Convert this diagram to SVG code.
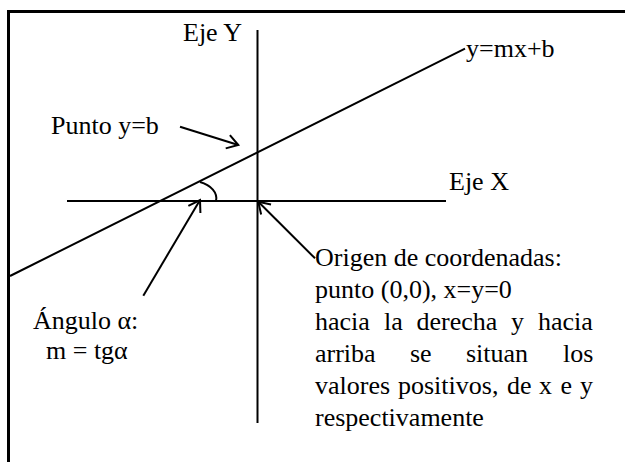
<svg xmlns="http://www.w3.org/2000/svg" width="625" height="462" viewBox="0 0 625 462">
<style>
text{font-family:"Liberation Serif","Times New Roman",serif;font-size:26px;fill:#000}
.ln{stroke:#000;stroke-width:2;fill:none}
.ar{stroke:#000;stroke-width:2;fill:none;marker-end:url(#arr)}
</style>
<defs>
<marker id="arr" markerUnits="userSpaceOnUse" markerWidth="30" markerHeight="30" refX="0" refY="0" viewBox="-15 -15 30 30" orient="auto" overflow="visible">
<path d="M-11,-7 L0,0 L-11,7" stroke="#000" stroke-width="2" fill="none"/>
</marker>
</defs>
<rect width="625" height="462" fill="#fff"/>
<g id="frame"><path d="M8.5,462 V11.5 H625" stroke="#000" stroke-width="3" fill="none"/></g>
<g id="ejeY"><line class="ln" x1="257.5" y1="30" x2="257.5" y2="423"/><text x="183" y="41">Eje Y</text></g>
<g id="ejeX"><line class="ln" x1="67" y1="201" x2="446" y2="201"/><text x="449" y="190">Eje X</text></g>
<g id="recta"><line class="ln" x1="10" y1="276" x2="465" y2="48.6"/><text x="466" y="57">y=mx+b</text></g>
<g id="angulo"><path class="ln" d="M200,182 C211,185 218,193 216,201"/></g>
<g id="puntoB"><text x="51" y="134">Punto y=b</text></g>
<g id="labelAngulo"><text x="33" y="329">Ángulo α:</text><text x="46" y="359">m = tgα</text></g>
<g id="origen">
<text x="315" y="266">Origen de coordenadas:</text>
<text x="315" y="298">punto (0,0), x=y=0</text>
<text y="330"><tspan x="315">hacia</tspan><tspan x="384">la</tspan><tspan x="416.5">derecha</tspan><tspan x="511">y</tspan><tspan x="538">hacia</tspan></text>
<text y="362"><tspan x="315">arriba</tspan><tspan x="410">se</tspan><tspan x="466">situan</tspan><tspan x="563">los</tspan></text>
<text y="394"><tspan x="315">valores</tspan><tspan x="398">positivos,</tspan><tspan x="507">de</tspan><tspan x="539">x</tspan><tspan x="560.5">e</tspan><tspan x="580">y</tspan></text>
<text x="315" y="426">respectivamente</text>
</g>
<g id="connectors">
<line class="ar" x1="180" y1="126.7" x2="238.3" y2="145"/>
<line class="ar" x1="315" y1="258.3" x2="258.3" y2="201.7"/>
<line class="ar" x1="143.3" y1="295.7" x2="200" y2="200"/>
</g>
</svg>
